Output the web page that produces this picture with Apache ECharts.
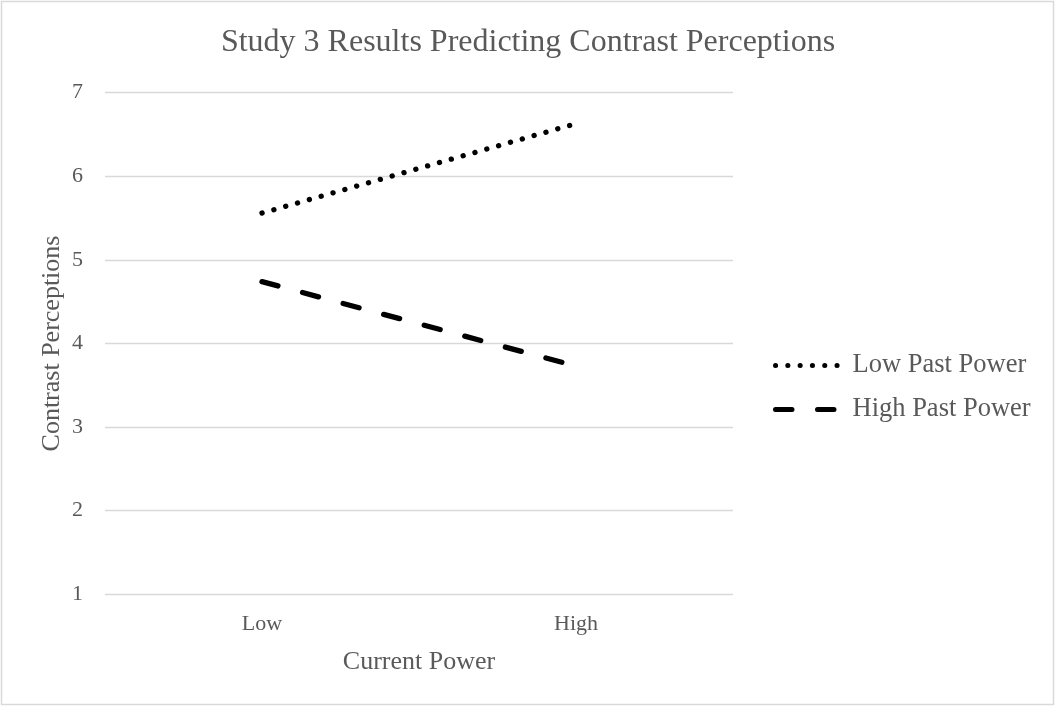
<!DOCTYPE html>
<html>
<head>
<meta charset="utf-8">
<script src="https://cdn.jsdelivr.net/npm/echarts@6/dist/echarts.min.js"></script>
<style>
html,body{margin:0;padding:0;background:#fff;}
#chart{width:1056px;height:707px;}
</style>
</head>
<body>
<div id="chart"></div>
<script>
const categories = ["Low", "High"];
const lowPastPower = [5.56, 6.63];
const highPastPower = [4.74, 3.73];
const seriesNames = ["Low Past Power", "High Past Power"];
const yTicks = [1, 2, 3, 4, 5, 6, 7];

const FONT = "'Liberation Serif', 'Times New Roman', serif";
const GREY = "#595959";

const chart = echarts.init(document.getElementById('chart'), null, {renderer: 'canvas'});
chart.setOption({
  animation: false,
  backgroundColor: '#fff',
  title: {
    text: 'Study 3 Results Predicting Contrast Perceptions',
    left: 'center',
    top: 22,
    textStyle: {fontFamily: FONT, fontSize: 32, fontWeight: 'normal', color: GREY}
  },
  graphic: [{
    type: 'rect',
    shape: {x: 1.5, y: 1.5, width: 1052, height: 703},
    style: {fill: 'none', stroke: '#d9d9d9', lineWidth: 1.5},
    silent: true
  }],
  legend: {
    orient: 'vertical',
    left: 768,
    top: 347,
    itemWidth: 72,
    itemHeight: 14,
    itemGap: 17,
    data: seriesNames,
    itemStyle: {opacity: 0},
    lineStyle: {width: 5, cap: 'round'},
    textStyle: {fontFamily: FONT, fontSize: 26.5, color: GREY}
  },
  grid: {left: 105, right: 323, top: 92.7, bottom: 112.7, containLabel: false},
  xAxis: {
    type: 'category',
    data: categories,
    boundaryGap: true,
    name: 'Current Power',
    nameLocation: 'middle',
    nameGap: 55,
    nameMoveOverlap: false,
    nameTextStyle: {fontFamily: FONT, fontSize: 26, color: GREY, verticalAlign: 'top'},
    axisLine: {show: false},
    axisTick: {show: false},
    axisLabel: {fontFamily: FONT, fontSize: 22, color: GREY, margin: 19}
  },
  yAxis: {
    type: 'value',
    min: yTicks[0],
    max: yTicks[yTicks.length - 1],
    interval: 1,
    name: 'Contrast Perceptions',
    nameLocation: 'middle',
    nameGap: 40,
    nameMoveOverlap: false,
    nameTextStyle: {fontFamily: FONT, fontSize: 26, color: GREY},
    axisLine: {show: false},
    axisTick: {show: false},
    axisLabel: {fontFamily: FONT, fontSize: 22, color: GREY, margin: 22},
    splitLine: {lineStyle: {color: '#d9d9d9', width: 1.3}}
  },
  series: [
    {
      name: seriesNames[0],
      type: 'line',
      data: lowPastPower,
      symbol: 'none',
      lineStyle: {color: '#000', width: 5.3, type: [0.1, 12.2], cap: 'round'},
      itemStyle: {color: '#000'}
    },
    {
      name: seriesNames[1],
      type: 'line',
      data: highPastPower,
      symbol: 'none',
      lineStyle: {color: '#000', width: 5.3, type: [16.5, 25.5], cap: 'round'},
      itemStyle: {color: '#000'}
    }
  ]
});
</script>
</body>
</html>
